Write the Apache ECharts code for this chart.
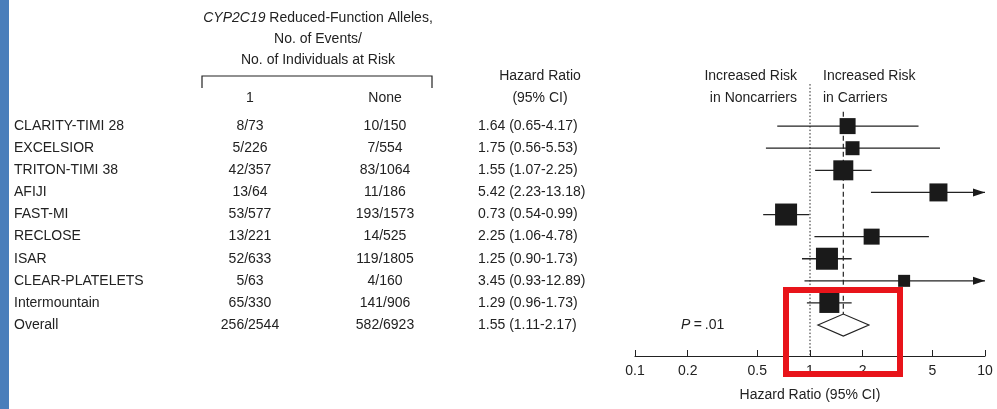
<!DOCTYPE html>
<html><head><meta charset="utf-8">
<script src="https://cdn.jsdelivr.net/npm/echarts@6/dist/echarts.min.js"></script>
<style>html,body{margin:0;padding:0;background:#fff}#c{width:997px;height:409px}</style>
</head><body><div id="c"></div>
<script>
var studies=['CLARITY-TIMI 28','EXCELSIOR','TRITON-TIMI 38','AFIJI','FAST-MI','RECLOSE','ISAR','CLEAR-PLATELETS','Intermountain'];
var carriers=['8/73','5/226','42/357','13/64','53/577','13/221','52/633','5/63','65/330'];
var noncarriers=['10/150','7/554','83/1064','11/186','193/1573','14/525','119/1805','4/160','141/906'];
var hr=[1.64,1.75,1.55,5.42,0.73,2.25,1.25,3.45,1.29];
var lo=[0.65,0.56,1.07,2.23,0.54,1.06,0.90,0.93,0.96];
var hi=[4.17,5.53,2.25,13.18,0.99,4.78,1.73,12.89,1.73];
var weight=[8,7,10,9,11,8,11,6,10];
var overall={label:'Overall',c:'256/2544',n:'582/6923',hr:1.55,lo:1.11,hi:2.17,text:'1.55 (1.11-2.17)'};
var xTicks=[0.1,0.2,0.5,1,2,5,10];
function fmt(i){return hr[i].toFixed(2)+' ('+lo[i].toFixed(2)+'-'+hi[i].toFixed(2)+')';}
var XMAX=10;
var F='"Liberation Sans", Arial, sans-serif', COL='#222';
var rows=studies.map(function(s,i){return [hr[i],i,lo[i],hi[i],weight[i]];});
function txt(x,y,t,align,extra){var s={text:t,x:x,y:y,textAlign:align||'left',textVerticalAlign:'middle',fill:COL,font:'14px '+F};
 if(extra)for(var k in extra)s[k]=extra[k];return {type:'text',style:s,silent:true};}
var chart=echarts.init(document.getElementById('c'));
chart.setOption({
 animation:false,
 grid:{left:635,right:12,top:104,bottom:53},
 xAxis:{type:'log',logBase:10,min:0.1,max:10,position:'bottom',
  axisLine:{show:true,onZero:false,lineStyle:{color:'#222',width:1.2}},
  axisTick:{show:true,inside:true,length:6,lineStyle:{color:'#222'},customValues:xTicks},
  axisLabel:{color:'#222',fontFamily:F,fontSize:14,margin:8,customValues:xTicks,formatter:function(v){return String(+v.toPrecision(3));}},
  splitLine:{show:false},name:'Hazard Ratio (95% CI)',nameLocation:'middle',nameGap:32,
  nameTextStyle:{color:'#222',fontFamily:F,fontSize:14}},
 yAxis:{type:'value',inverse:true,min:-1,max:10.4,show:false},
 series:[
 {type:'custom',renderItem:function(p,api){
   var i=api.value(1),c=api.coord([api.value(0),i]),a=api.coord([api.value(2),i]);
   var hv=Math.min(api.value(3),XMAX),b=api.coord([hv,i]),w=api.value(4);
   var ch=[{type:'line',shape:{x1:a[0],y1:c[1],x2:b[0],y2:c[1]},style:{stroke:'#222',lineWidth:1.3}},
     {type:'rect',shape:{x:c[0]-w,y:c[1]-w,width:2*w,height:2*w},style:{fill:'#1a1a1a'}}];
   if(api.value(3)>XMAX)ch.push({type:'polygon',shape:{points:[[b[0],c[1]],[b[0]-12,c[1]-4],[b[0]-12,c[1]+4]]},style:{fill:'#1a1a1a'}});
   ch.push(txt(14,c[1],studies[i]),txt(250,c[1],carriers[i],'center'),txt(385,c[1],noncarriers[i],'center'),txt(478,c[1],fmt(i)));
   return {type:'group',children:ch};
  },data:rows,z:5},
 {type:'custom',renderItem:function(p,api){
   var y=9,c=api.coord([api.value(0),y]),a=api.coord([api.value(1),y]),b=api.coord([api.value(2),y]);
   var one=api.coord([1,-1.9]),axisY=api.coord([1,10.4]);
   var top=api.coord([api.value(0),-0.65]);
   return {type:'group',children:[
    {type:'line',shape:{x1:one[0],y1:one[1],x2:one[0],y2:axisY[1]},style:{stroke:'#222',lineWidth:1,lineDash:[1.5,2]}},
    {type:'line',shape:{x1:c[0],y1:top[1],x2:c[0],y2:c[1]-11},style:{stroke:'#222',lineWidth:1.2,lineDash:[5,3]}},
    {type:'polygon',shape:{points:[[a[0],c[1]],[c[0],c[1]-11],[b[0],c[1]],[c[0],c[1]+11]]},style:{fill:'#fff',stroke:'#222',lineWidth:1.2}},
    txt(14,c[1],overall.label),txt(250,c[1],overall.c,'center'),txt(385,c[1],overall.n,'center'),txt(478,c[1],overall.text),
    {type:'text',style:{text:'P',x:681,y:c[1],textVerticalAlign:'middle',fill:COL,font:'italic 14px '+F}},
    txt(691,c[1],'\u2009=\u2009.01')
   ]};
  },data:[[overall.hr,overall.lo,overall.hi]],z:4}
 ],
 graphic:[
  {type:'rect',shape:{x:0,y:0,width:9,height:409},style:{fill:'#4a7ebb'}},
  {type:'text',style:{text:'{i|CYP2C19} Reduced-Function Alleles,',x:318,y:18,textAlign:'center',textVerticalAlign:'middle',fill:COL,font:'14px '+F,rich:{i:{fontStyle:'italic',fontSize:14,fontFamily:F,fill:COL}}}},
  txt(318,39,'No. of Events/','center'),txt(318,60,'No. of Individuals at Risk','center'),
  {type:'polyline',shape:{points:[[202,88],[202,76],[432,76],[432,88]]},style:{stroke:'#222',lineWidth:1.2,fill:null}},
  txt(250,98,'1','center'),txt(385,98,'None','center'),
  txt(540,76,'Hazard Ratio','center'),txt(540,98,'(95% CI)','center'),
  txt(797,76,'Increased Risk','right'),txt(797,98,'in Noncarriers','right'),
  txt(823,76,'Increased Risk'),txt(823,98,'in Carriers'),
  {type:'rect',shape:{x:786,y:290,width:114,height:84},style:{fill:null,stroke:'#e8141a',lineWidth:6},z:100}
 ]
});
</script></body></html>
